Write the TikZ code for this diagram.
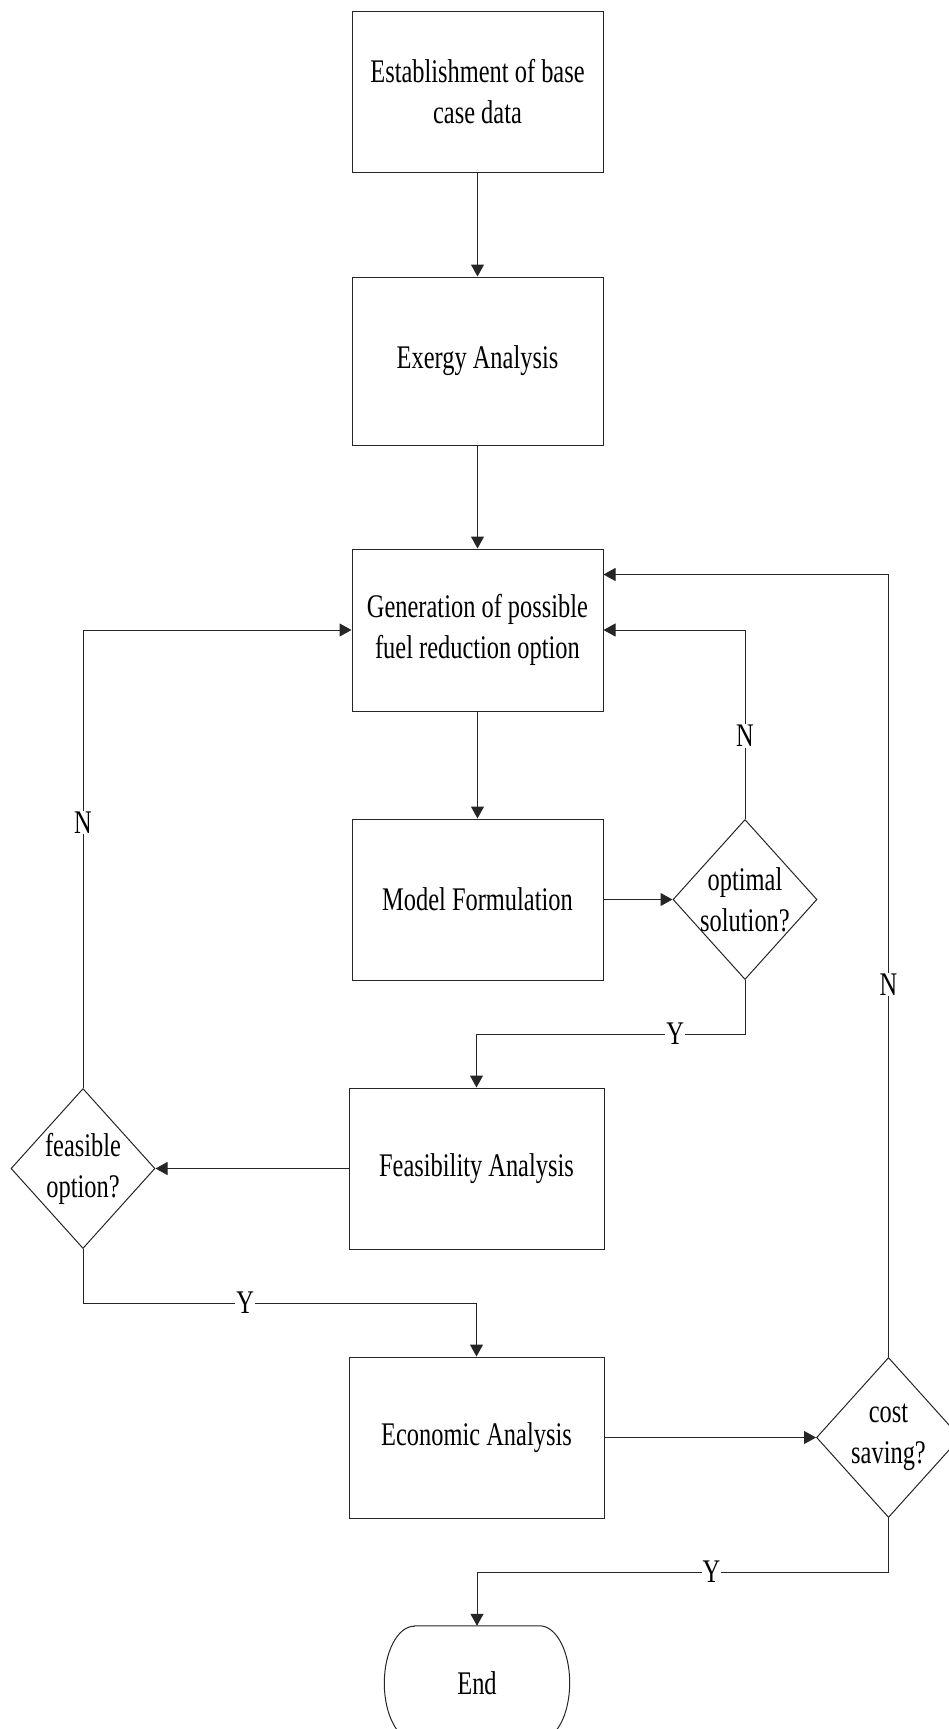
\documentclass[tikz,border=0pt]{standalone}
\usepackage{fontspec}
\setmainfont{Liberation Serif}[FakeStretch=0.74]
\usetikzlibrary{arrows.meta,shapes.geometric,calc}
\begin{document}
\begin{tikzpicture}[x=1pt,y=-1pt,
  every node/.style={font=\fontsize{33}{41}\selectfont},
  boxnode/.style={draw=black!85, line width=1pt, minimum width=251pt, minimum height=162pt, inner sep=0pt, align=center},
  widebox/.style={boxnode, minimum width=255pt},
  dia/.style={draw=black!85, line width=1pt, diamond, minimum width=144pt, minimum height=160pt, inner sep=0pt},
  arr/.style={draw=black!85, line width=1pt, -{Triangle[length=12pt,width=13pt]}},
  lab/.style={fill=white, inner sep=1pt}
]
\useasboundingbox (0,0) rectangle (948,1729);
\fill[white] (0,0) rectangle (948,1729);

\node[boxnode, minimum height=161pt] (b1) at (477.5,91.5) {Establishment of base\\case data};
\node[boxnode, minimum height=168pt] (ex) at (477.5,361) {Exergy Analysis};
\node[boxnode] (gen) at (477.5,630) {Generation of possible\\fuel reduction option};
\node[boxnode, minimum height=161pt] (mod) at (477.5,899.5) {Model Formulation};
\node[widebox, minimum height=161pt] (fea) at (476.5,1168.5) {Feasibility Analysis};
\node[widebox, minimum height=161pt] (eco) at (476.5,1437.5) {Economic Analysis};

\node[dia] (opt) at (745,899.5) {};
\node[align=center] at (opt) {optimal\\solution?};
\node[dia] (fdi) at (83,1168.5) {};
\node[align=center] at (fdi) {feasible\\option?};
\node[dia] (cost) at (888.5,1437.5) {};
\node[align=center] at (cost) {cost\\saving?};

\node[minimum width=185pt, minimum height=114pt, inner sep=0pt] (end) at (477,1683) {End};
\draw[black!85, line width=1pt] ([xshift=30pt]end.north west) -- ([xshift=-30pt]end.north east)
  arc[start angle=90, end angle=-90, x radius=30pt, y radius=57pt]
  -- ([xshift=30pt]end.south west)
  arc[start angle=270, end angle=90, x radius=30pt, y radius=57pt] -- cycle;

\draw[arr] (b1) -- (ex);
\draw[arr] (ex) -- (gen);
\draw[arr] (gen) -- (mod);
\draw[arr] (mod) -- (opt);
\draw[arr] (fea) -- (fdi);
\draw[arr] (eco) -- (cost);

\draw[arr] (opt.north) |- node[lab, pos=0.22] {N} (gen.east);
\draw[arr] (fdi.north) |- node[lab, pos=0.29] {N} (gen.west);
\draw[arr] (cost.north) |- node[lab, pos=0.238] {N} ($(gen.north east)+(0,26)$);

\draw[arr] (opt.south) -- ++(0,54) -| node[lab, pos=0.13] {Y} (fea.north);
\draw[arr] (fdi.south) -- ++(0,54) -| node[lab, pos=0.206] {Y} (eco.north);
\draw[arr] (cost.south) -- ++(0,54) -| node[lab, pos=0.215] {Y} (end.north);
\end{tikzpicture}
\end{document}
